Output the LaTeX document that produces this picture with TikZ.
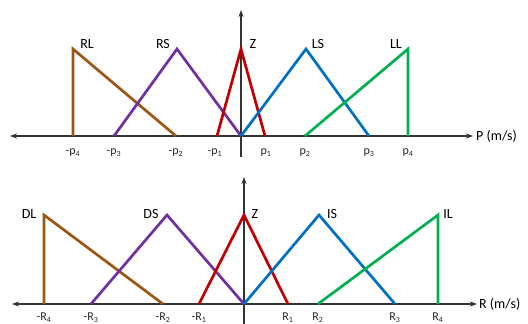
\documentclass[tikz,border=0pt]{standalone}
\usepackage{fontspec}
\setmainfont{Carlito}
\usetikzlibrary{arrows.meta}
\definecolor{cbrown}{HTML}{9C5714}
\definecolor{cpurple}{HTML}{7030A0}
\definecolor{cred}{HTML}{C00000}
\definecolor{cblue}{HTML}{0070C0}
\definecolor{cgreen}{HTML}{00B050}
\tikzset{
  axis/.style={line width=1.1pt, draw=black!80, -{Stealth[length=7pt,width=5pt]}},
  mf/.style={line width=2.7pt, line join=miter},
  lab/.style={font=\fontsize{14}{16}\selectfont, inner sep=0pt},
  tick/.style={font=\fontsize{12}{14}\selectfont, inner sep=0pt, text=black!85},
  axlab/.style={font=\fontsize{14}{16}\selectfont, inner sep=0pt, anchor=west}
}
\newcommand{\sbs}[1]{\textsubscript{#1}}
\begin{document}
\begin{tikzpicture}[x=1pt,y=-1pt]
\useasboundingbox (0,0) rectangle (528,324);
% ---------- top plot ----------
\draw[axis] (241,136) -- (10,136);
\draw[axis] (241,136) -- (473,136);
\draw[axis] (241,157) -- (241,10);
\draw[mf,cbrown] (73,136) -- (73,49) -- (176,136);
\draw[mf,cpurple] (114,136) -- (177,49) -- (241,136);
\draw[mf,cred] (217,136) -- (241,49) -- (265,136);
\draw[mf,cblue] (241,136) -- (306,49) -- (369,136);
\draw[mf,cgreen] (305,136) -- (408,49) -- (408,136);
\node[lab] (rl) at (87,44) {RL};
\node[lab] (rs) at (163,44) {RS};
\node[lab] (z1) at (253,44) {Z};
\node[lab] (ls) at (318,44) {LS};
\node[lab] (ll) at (396,44) {LL};
\node[tick] (mp4) at (73,153) {-p\sbs{4}};
\node[tick] (mp3) at (114,153) {-p\sbs{3}};
\node[tick] (mp2) at (176,153) {-p\sbs{2}};
\node[tick] (mp1) at (215,153) {-p\sbs{1}};
\node[tick] (pp1) at (266,153) {p\sbs{1}};
\node[tick] (pp2) at (305,153) {p\sbs{2}};
\node[tick] (pp3) at (369,153) {p\sbs{3}};
\node[tick] (pp4) at (408,153) {p\sbs{4}};
\node[axlab] (pax) at (476,136) {P (m/s)};
% ---------- bottom plot ----------
\draw[axis] (244,304) -- (12,304);
\draw[axis] (244,304) -- (477,304);
\draw[axis] (244,324) -- (244,177);
\draw[mf,cbrown] (44,304) -- (44,215) -- (163,304);
\draw[mf,cpurple] (91,304) -- (167,215) -- (244,304);
\draw[mf,cred] (199,304) -- (244,215) -- (288,304);
\draw[mf,cblue] (244,304) -- (319,215) -- (395,304);
\draw[mf,cgreen] (318,304) -- (438,215) -- (438,304);
\node[lab] (dl) at (29,214) {DL};
\node[lab] (ds) at (151,214) {DS};
\node[lab] (z2) at (255,214) {Z};
\node[lab] (is) at (332,214) {IS};
\node[lab] (il) at (448,214) {IL};
\node[tick] (mr4) at (44,318) {-R\sbs{4}};
\node[tick] (mr3) at (91,318) {-R\sbs{3}};
\node[tick] (mr2) at (163,318) {-R\sbs{2}};
\node[tick] (mr1) at (199,318) {-R\sbs{1}};
\node[tick] (rr1) at (288,318) {R\sbs{1}};
\node[tick] (rr2) at (318,318) {R\sbs{2}};
\node[tick] (rr3) at (395,318) {R\sbs{3}};
\node[tick] (rr4) at (438,318) {R\sbs{4}};
\node[axlab] (rax) at (479,304) {R (m/s)};
\end{tikzpicture}
\end{document}
